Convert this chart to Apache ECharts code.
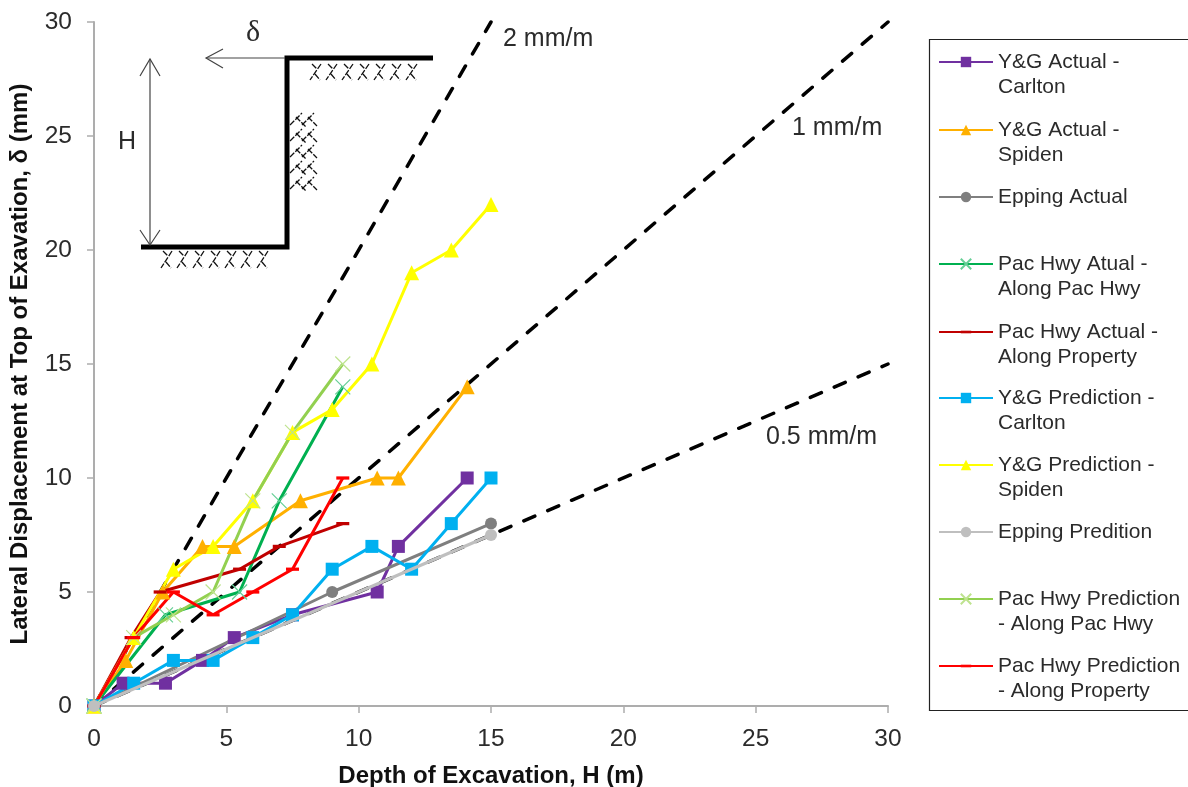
<!DOCTYPE html>
<html><head><meta charset="utf-8">
<style>html,body{margin:0;padding:0;background:#fff}#c{width:1188px;height:787px}</style>
<script src="https://cdn.jsdelivr.net/npm/echarts@6/dist/echarts.min.js"></script>
</head><body><div id="c"></div>
<script>
const xTicks = [0, 5, 10, 15, 20, 25, 30];
const yTicks = [0, 5, 10, 15, 20, 25, 30];
const ref2 = [[0,0],[15,30]];
const ref1 = [[0,0],[30,30]];
const ref05 = [[0,0],[30,15]];
const ygActualCarlton = [[0,0],[1.1,1],[2.7,1],[4.1,2],[5.3,3],[7.5,4],[10.7,5],[11.5,7],[14.1,10]];
const ygActualSpiden = [[0,0],[1.2,2],[2.6,5],[4.1,7],[5.3,7],[7.8,9],[10.7,10],[11.5,10],[14.1,14]];
const eppingActual = [[0,0],[9,5],[15,8]];
const pacActualHwy = [[0,0],[2.7,4],[5.5,5],[7,9],[9.4,14]];
const pacActualProp = [[0,0],[1.4,3],[2.5,5],[5.5,6],[7,7],[9.4,8]];
const ygPredCarlton = [[0,0],[1.5,1],[3,2],[4.5,2],[6,3],[7.5,4],[9,6],[10.5,7],[12,6],[13.5,8],[15,10]];
const ygPredSpiden = [[0,0],[1.5,3],[3,6],[4.5,7],[6,9],[7.5,12],[9,13],[10.5,15],[12,19],[13.5,20],[15,22]];
const eppingPred = [[0,0],[15,7.5]];
const pacPredHwy = [[0,0],[1.5,3],[3,4],[4.5,5],[6,9],[7.5,12],[9.4,15]];
const pacPredProp = [[0,0],[1.5,3],[3,5],[4.5,4],[6,5],[7.5,6],[9.4,10]];

const FONT = '"Liberation Sans", Arial, sans-serif';
const TXT = '#2b2b2b';
const X = 'path://M0 0L10 10M10 0L0 10';
const DASH = 'path://M6 0L6 0M0 4.5H12V7.5H0ZM6 12L6 12';
const defs = [
  ['Y&G Actual -\nCarlton', ygActualCarlton, '#7030a0', 'rect', 13, 62],
  ['Y&G Actual -\nSpiden', ygActualSpiden, '#ffb000', 'triangle', 15, 130],
  ['Epping Actual', eppingActual, '#7f7f7f', 'circle', 12, 197],
  ['Pac Hwy Atual -\nAlong Pac Hwy', pacActualHwy, '#00b050', X, 15, 264],
  ['Pac Hwy Actual -\nAlong Property', pacActualProp, '#c00000', DASH, 13, 332],
  ['Y&G Prediction -\nCarlton', ygPredCarlton, '#00b0f0', 'rect', 13, 398],
  ['Y&G Prediction -\nSpiden', ygPredSpiden, '#ffff00', 'triangle', 15, 465],
  ['Epping Predition', eppingPred, '#bfbfbf', 'circle', 12, 532],
  ['Pac Hwy Prediction\n- Along Pac Hwy', pacPredHwy, '#92d050', X, 15, 599],
  ['Pac Hwy Prediction\n- Along Property', pacPredProp, '#ff0000', DASH, 13, 666]
];
const xLight = {'#00b050':'#66cf96','#92d050':'#bee38f'};

const refSeries = [ref2, ref1, ref05].map((d,i) => ({
  type:'line', name:'ref'+i, data:d, showSymbol:false, symbol:'none', silent:true, clip:false, z:1,
  lineStyle:{color:'#000', width:3.5, type:[12,14], cap:'round'}
}));
const dataSeries = defs.map(([name,data,color,symbol,size]) => {
  const isX = symbol === X;
  return {
    type:'line', name, data, symbol, symbolSize:size, showSymbol:true, clip:false, showAllSymbol:true,
    z: name === 'Epping Predition' ? 3 : 2,
    lineStyle:{color, width:3},
    itemStyle: isX ? {color:'none', borderColor:xLight[color], borderWidth:1.2} : {color, borderWidth:0},
    emphasis:{disabled:true}
  };
});
const legends = defs.map(([name,,,,,y]) => {
  const lines = name.includes('\n') ? 3 : 1;
  return {
    data:[name], left:938, top:y - lines*12.5, orient:'vertical', padding:0,
    itemWidth:54, itemHeight:13, selectedMode:false,
    formatter:n => n.includes('\n') ? '\n'+n : n,
    textStyle:{fontFamily:FONT, fontSize:21, color:TXT, lineHeight:25}
  };
});

// schematic decoration
const hatch = [];
const hl = (a,b,c,d) => hatch.push({type:'line', silent:true, shape:{x1:a,y1:b,x2:c,y2:d}, style:{stroke:'#111', lineWidth:1.3, lineDash:[6,1.5]}});
function hatchH(x0,x1,y0,y1){ for(let x=x0;x<x1;x+=16){
  hl(x+11,y0,x,y1); hl(x+2,y0,x+7,y0+5); hl(x+5,y1-6,x+10,y1);
}}
function hatchV(x0,x1,y0,y1){ for(let y=y0;y<y1;y+=16){
  hl(x0,y+12,x0+12,y); hl(x0+12,y+12,x0+24,y); hl(x0+6,y+4,x0+16,y+14); hl(x0+18,y+4,x0+27,y+13);
}}
hatchH(310,410,64,80); hatchH(161,262,251,268); hatchV(290,317,113,192);
const seg = (pts,w,c) => ({type:'polyline', silent:true, shape:{points:pts}, style:{stroke:c, lineWidth:w, fill:null}});
const label = (t,x,y,extra) => ({type:'text', silent:true, x, y, style:Object.assign({text:t, fontFamily:FONT, fontSize:25, fill:TXT, verticalAlign:'middle', align:'left'}, extra||{})});
const graphics = [
  {type:'rect', silent:true, shape:{x:929.5,y:39.5,width:300,height:671}, style:{fill:'none', stroke:'#222', lineWidth:1.2}},
  seg([[433,58],[287,58],[287,247],[141,247]],5,'#000'),
  seg([[285,58],[206,58]],1.2,'#444'), seg([[223,49],[206,58],[223,68]],1.2,'#444'),
  seg([[150,59],[150,245]],1.2,'#444'), seg([[140,76],[150,59],[160,76]],1.2,'#444'), seg([[140,230],[150,245],[160,230]],1.2,'#444'),
  {type:'group', silent:true, children:hatch},
  label('H',118,142), label('δ',246,33,{fontFamily:'"Liberation Serif", serif', fontSize:30}),
  label('2 mm/m',503,39), label('1 mm/m',792,128), label('0.5 mm/m',766,437)
];
const axisCommon = {
  type:'value', min:0, max:30, interval:5, splitLine:{show:false},
  axisLine:{onZero:false, lineStyle:{color:'#adadad', width:2}},
  axisTick:{length:7, lineStyle:{color:'#adadad', width:1.5}},
  nameLocation:'middle',
  nameTextStyle:{fontFamily:FONT, fontWeight:'bold', fontSize:24, color:'#111'}
};
const chart = echarts.init(document.getElementById('c'), null, {renderer:'canvas'});
chart.setOption({
  animation:false, backgroundColor:'#fff',
  grid:{left:94, right:300, top:22, bottom:81, containLabel:false, outerBoundsMode:'none'},
  xAxis:Object.assign({}, axisCommon, {name:'Depth of Excavation, H (m)', nameGap:58,
    axisLabel:{margin:21, fontFamily:FONT, fontSize:24.5, color:TXT, formatter:v => xTicks.includes(v) ? String(v) : ''}}),
  yAxis:Object.assign({}, axisCommon, {name:'Lateral Displacement at Top of Exavation, δ (mm)', nameGap:62,
    axisLabel:{margin:22, fontFamily:FONT, fontSize:24.5, color:TXT, formatter:v => yTicks.includes(v) ? String(v) : ''}}),
  legend:legends,
  series:refSeries.concat(dataSeries),
  graphic:graphics
});
</script></body></html>
